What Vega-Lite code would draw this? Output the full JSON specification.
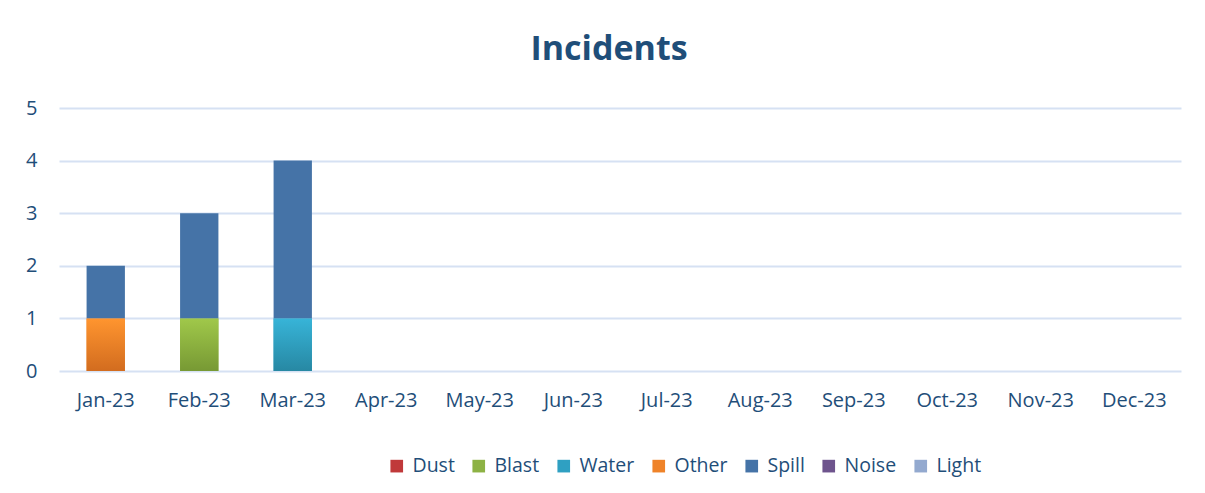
{
  "$schema": "https://vega.github.io/schema/vega-lite/v6.json",
  "width": 1122,
  "height": 263,
  "autosize": {"type": "none"},
  "padding": {"left": 59, "top": 108, "right": 24, "bottom": 122},
  "background": "white",
  "config": {
    "view": {"stroke": null},
    "font": "Open Sans",
    "axis": {"labelFont": "Open Sans", "labelColor": "#1F4E79", "labelFontSize": 20, "ticks": false, "domain": false, "title": null}
  },
  "title": {"text": "Incidents", "font": "Open Sans", "fontSize": 34, "fontWeight": "bold", "color": "#1F4E79", "anchor": "middle", "dx": -11, "offset": 4, "baseline": "alphabetic"},
  "data": {"values": [
    {"month": "Jan-23", "type": "Other", "k": 4, "count": 1},
    {"month": "Jan-23", "type": "Spill", "k": 5, "count": 1},
    {"month": "Feb-23", "type": "Blast", "k": 2, "count": 1},
    {"month": "Feb-23", "type": "Spill", "k": 5, "count": 2},
    {"month": "Mar-23", "type": "Water", "k": 3, "count": 1},
    {"month": "Mar-23", "type": "Spill", "k": 5, "count": 3}
  ]},
  "transform": [
    {"stack": "count", "groupby": ["month"], "sort": [{"field": "k", "order": "ascending"}], "as": ["y0", "y1"]}
  ],
  "encoding": {
    "x": {"field": "month", "type": "nominal", "sort": null,
      "scale": {"domain": ["Jan-23","Feb-23","Mar-23","Apr-23","May-23","Jun-23","Jul-23","Aug-23","Sep-23","Oct-23","Nov-23","Dec-23"], "paddingInner": 0.59, "paddingOuter": 0.295},
      "axis": {"labelAngle": 0, "labelPadding": 19, "grid": false}},
    "y": {"field": "y1", "type": "quantitative",
      "scale": {"domain": [0, 5]},
      "axis": {"values": [0,1,2,3,4,5], "labelPadding": 22, "grid": true, "gridColor": "#D6E1F3", "gridWidth": 2}},
    "y2": {"field": "y0"}
  },
  "layer": [
    {
      "mark": {"type": "bar"},
      "encoding": {
        "color": {"field": "type", "type": "nominal",
          "scale": {"domain": ["Dust","Blast","Water","Other","Spill","Noise","Light"],
                    "range": ["#C0393A","#8DB244","#2FA0C2","#EF8329","#4573A7","#6E548D","#93A9CF"]},
          "legend": {"orient": "none", "direction": "horizontal", "legendX": 328, "legendY": 348, "title": null,
                     "symbolType": "square", "symbolSize": 160, "symbolStrokeWidth": 0, "labelFont": "Open Sans", "labelFontSize": 19.5, "labelColor": "#1F4E79", "labelOffset": 6, "columnPadding": 14}}
      }
    },
    {
      "transform": [{"filter": "datum.type == 'Other'"}],
      "mark": {"type": "bar", "fill": {"gradient": "linear", "x1": 0, "y1": 0, "x2": 0, "y2": 1, "stops": [{"offset": 0, "color": "#FF952F"}, {"offset": 1, "color": "#D26C1F"}]}}
    },
    {
      "transform": [{"filter": "datum.type == 'Blast'"}],
      "mark": {"type": "bar", "fill": {"gradient": "linear", "x1": 0, "y1": 0, "x2": 0, "y2": 1, "stops": [{"offset": 0, "color": "#A0C84A"}, {"offset": 1, "color": "#779934"}]}}
    },
    {
      "transform": [{"filter": "datum.type == 'Water'"}],
      "mark": {"type": "bar", "fill": {"gradient": "linear", "x1": 0, "y1": 0, "x2": 0, "y2": 1, "stops": [{"offset": 0, "color": "#37B4D8"}, {"offset": 1, "color": "#2788A3"}]}}
    }
  ]
}
